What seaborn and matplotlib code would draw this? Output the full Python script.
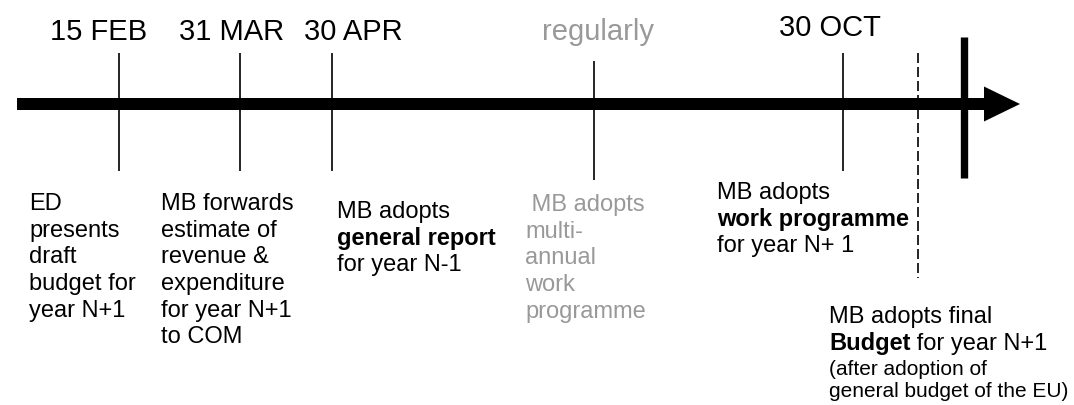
import matplotlib
matplotlib.use("Agg")
import matplotlib.pyplot as plt
import seaborn as sns

sns.set_theme(style="white")
plt.rcParams['font.family'] = ['Liberation Sans', 'DejaVu Sans']

# --- dados da linha do tempo (coordenadas em pixels da imagem) ---
date_labels = ["15 FEB", "31 MAR", "30 APR", "regularly", "30 OCT"]
date_label_x = [99, 232, 353, 598, 830]
date_label_y = [40, 40, 40, 40, 36]
date_colors = ["black", "black", "black", "#999999", "black"]

tick_x = [119, 240, 332, 594, 843]
tick_top = [54, 54, 54, 62, 54]
tick_bottom = [172, 172, 172, 181, 172]

# blocos de texto: cada linha é uma lista de (texto, negrito)
blocks = [
    dict(x=29, y0=210, color="black", lines=[
        [("ED", False)], [("presents", False)], [("draft", False)],
        [("budget for", False)], [("year N+1", False)]]),
    dict(x=161, y0=210, color="black", lines=[
        [("MB forwards", False)], [("estimate of", False)], [("revenue &", False)],
        [("expenditure", False)], [("for year N+1", False)], [("to COM", False)]]),
    dict(x=337, y0=218, color="black", lines=[
        [("MB adopts", False)], [("general report", True)], [("for year N-1", False)]]),
    dict(x=525, y0=211, color="#999999", lines=[
        [(" MB adopts", False)], [("multi-", False)], [("annual", False)],
        [("work", False)], [("programme", False)]]),
    dict(x=717, y0=199, color="black", lines=[
        [("MB adopts", False)], [("work programme", True)], [("for year N+ 1", False)]]),
    dict(x=829, y0=323, color="black", lines=[
        [("MB adopts final", False)], [("Budget", True), (" for year N+1", False)]]),
]
note_lines = ["(after adoption of", "general budget of the EU)"]
note_x = 829
note_y = [375, 397]

LINE_DY = 26.7

fig = plt.figure(figsize=(10.74, 4.06), dpi=100)
ax = fig.add_axes([0, 0, 1, 1])
ax.set_xlim(0, 1074)
ax.set_ylim(406, 0)
ax.axis("off")
sns.despine(ax=ax, left=True, bottom=True)

# seta principal
ax.arrow(17, 105, 1003, 0, width=12, head_width=35, head_length=36,
         length_includes_head=True, color="black", lw=0)

# marcadores
ax.vlines(tick_x, tick_top, tick_bottom, color="black", lw=1.2)
ax.vlines([918], [54], [279], color="black", lw=1.2, linestyles=[(0, (6, 2.4))])
ax.vlines([964], [38], [179], color="black", lw=5.3)

# datas
for lab, x, y, c in zip(date_labels, date_label_x, date_label_y, date_colors):
    ax.text(x, y, lab, fontsize=21, color=c, ha="center", va="baseline")

# textos
fig.canvas.draw()
renderer = fig.canvas.get_renderer()
for b in blocks:
    for i, segs in enumerate(b["lines"]):
        x = b["x"]
        y = b["y0"] + i * LINE_DY
        for txt, bold in segs:
            t = ax.text(x, y, txt, fontsize=17, color=b["color"],
                        fontweight="bold" if bold else "normal",
                        ha="left", va="baseline")
            x += t.get_window_extent(renderer).width

for txt, y in zip(note_lines, note_y):
    ax.text(note_x, y, txt, fontsize=15, color="black", ha="left", va="baseline")

fig.savefig("out.png", dpi=100)
